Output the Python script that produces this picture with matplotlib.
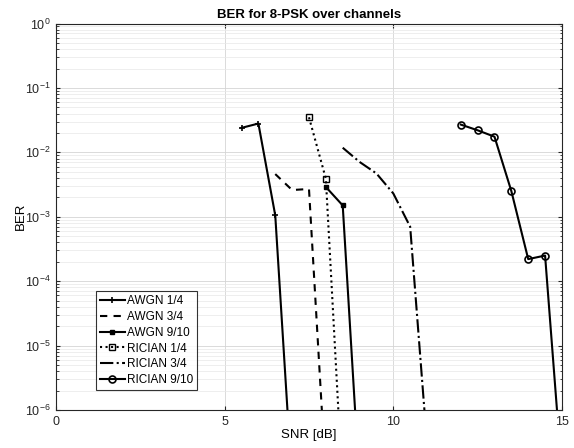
import numpy as np
import matplotlib
matplotlib.use("Agg")
import matplotlib.pyplot as plt
from matplotlib.ticker import LogLocator, NullFormatter

plt.rcParams['font.family'] = ['Liberation Sans', 'DejaVu Sans']
plt.rcParams['mathtext.fontset'] = 'custom'
plt.rcParams['mathtext.rm'] = 'Liberation Sans'
plt.rcParams['axes.unicode_minus'] = False

# data (SNR in dB, BER)
snr_awgn14 = [5.5, 6.0, 6.5, 7.0]
ber_awgn14 = [0.024, 0.028, 1.05e-3, 7e-8]

snr_awgn34 = [6.5, 7.0, 7.5, 8.0]
ber_awgn34 = [4.6e-3, 2.6e-3, 2.7e-3, 8.5e-8]

snr_awgn910 = [8.0, 8.5, 9.0]
ber_awgn910 = [2.9e-3, 1.5e-3, 7e-8]

snr_ric14 = [7.5, 8.0, 8.5]
ber_ric14 = [0.035, 3.9e-3, 5.6e-8]

snr_ric34 = [8.5, 9.0, 9.5, 10.0, 10.5, 11.0]
ber_ric34 = [0.0118, 7.1e-3, 4.7e-3, 2.3e-3, 7e-4, 3e-7]

snr_ric910 = [12.0, 12.5, 13.0, 13.5, 14.0, 14.5, 15.0]
ber_ric910 = [0.027, 0.022, 0.0175, 2.5e-3, 2.2e-4, 2.5e-4, 1e-7]

labels = ["AWGN 1/4", "AWGN 3/4", "AWGN 9/10", "RICIAN 1/4", "RICIAN 3/4", "RICIAN 9/10"]

fig = plt.figure(figsize=(5.74, 4.48), dpi=100)
ax = fig.add_axes([0.0976, 0.0848, 0.8814, 0.8627])

lw = 1.5
ax.semilogy(snr_awgn14, ber_awgn14, '-', color='k', lw=lw, marker='+', ms=5, mew=1.2, label=labels[0])
ax.semilogy(snr_awgn34, ber_awgn34, '--', color='k', lw=lw, dashes=(3.5, 3), label=labels[1])
ax.semilogy(snr_awgn910, ber_awgn910, '-', color='k', lw=lw, marker='s', ms=2.5, label=labels[2])
ax.semilogy(snr_ric14, ber_ric14, ':', color='k', lw=lw, marker='s', ms=4, mfc='none', mew=1, label=labels[3])
ax.semilogy(snr_ric34, ber_ric34, '-.', color='k', lw=lw, label=labels[4])
ax.semilogy(snr_ric910, ber_ric910, '-', color='k', lw=lw, marker='o', ms=5, mfc='none', mew=1.2, label=labels[5])

ax.set_xlim(0, 15)
ax.set_ylim(1e-6, 1)
ax.set_xticks([0, 5, 10, 15])
ax.yaxis.set_major_locator(LogLocator(base=10, numticks=10))
ax.yaxis.set_minor_locator(LogLocator(base=10, subs=np.arange(2, 10), numticks=20))
ax.yaxis.set_minor_formatter(NullFormatter())

ax.grid(True, which='major', color='#d4d4d4', lw=0.6)
ax.grid(True, which='minor', axis='y', color='#e8e8e8', lw=0.5)
ax.tick_params(which='both', direction='in', top=True, right=True, labelsize=9, colors='#262626')
ax.tick_params(which='major', length=3, pad=4)
ax.tick_params(which='minor', length=1.8)
for s in ax.spines.values():
    s.set_color('#262626')
    s.set_linewidth(0.8)

ax.set_title("BER for 8-PSK over channels", fontsize=9.5, fontweight='bold', pad=4)
ax.set_xlabel("SNR [dB]", fontsize=9.5, labelpad=1)
ax.set_ylabel("BER", fontsize=9.5)
ax.yaxis.set_label_coords(-0.058, 0.5)

leg = ax.legend(loc='lower left', bbox_to_anchor=(0.08, 0.052), fontsize=8.5,
                frameon=True, fancybox=False, edgecolor='k', handlelength=2.1,
                borderpad=0.3, labelspacing=0.33, handletextpad=0.2,
                borderaxespad=0)
leg.get_frame().set_linewidth(0.8)

fig.savefig("out.png", dpi=100)
